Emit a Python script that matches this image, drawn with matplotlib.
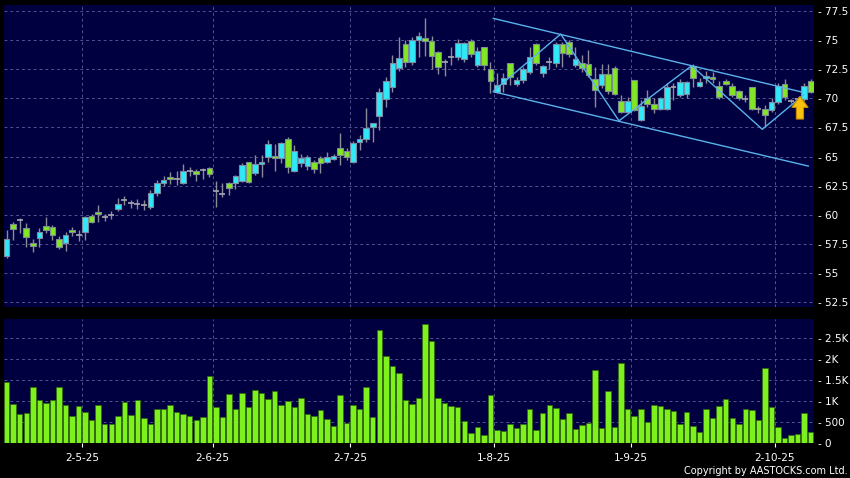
import numpy as np
import matplotlib
matplotlib.use("Agg")
import matplotlib.pyplot as plt
from matplotlib.patches import FancyArrow

# daily OHLC, one entry per trading day (11-4-25 .. 10-10-25)
OPEN = [56.48, 59.18, 59.54, 58.83, 57.54, 57.97, 59.00, 58.97, 57.89, 57.59,
        58.69, 58.26, 58.49, 59.89, 60.23, 59.83, 60.00, 60.52, 61.24, 60.98,
        60.92, 60.86, 60.64, 61.84, 62.70, 63.20, 63.04, 62.70, 63.73, 63.73,
        63.81, 63.99, 62.06, 61.82, 62.70, 62.70, 62.92, 64.50, 63.56, 64.33,
        64.98, 65.07, 64.85, 66.48, 63.75, 64.47, 64.18, 64.55, 64.85, 64.50,
        64.76, 65.70, 65.50, 64.50, 66.27, 66.48, 67.51, 68.50, 69.91, 71.00,
        72.58, 74.64, 73.08, 75.01, 75.22, 74.92, 74.02, 73.08, 73.57, 73.51,
        73.35, 74.95, 72.86, 74.38, 72.49, 70.57, 71.23, 73.01, 71.23, 71.57,
        72.23, 74.64, 72.15, 73.09, 73.01, 74.64, 74.86, 72.86, 73.00, 72.94,
        71.63, 71.14, 72.09, 72.58, 69.79, 68.80, 71.57, 68.14, 70.00, 69.48,
        69.05, 69.05, 71.00, 70.28, 70.34, 72.80, 71.06, 71.72, 71.86, 71.08,
        71.51, 71.06, 70.65, 69.97, 70.95, 69.05, 69.05, 68.97, 69.68, 71.20,
        69.77, 69.91, 69.91, 71.51]
HIGH = [58.69, 59.40, 59.69, 59.26, 57.89, 58.83, 59.78, 59.12, 58.17, 58.54,
        58.97, 58.69, 59.89, 60.06, 60.83, 60.06, 60.32, 61.41, 61.61, 61.26,
        61.32, 61.26, 62.12, 62.98, 63.32, 63.64, 63.75, 64.36, 64.12, 63.90,
        63.99, 64.12, 62.90, 62.75, 62.84, 63.41, 64.44, 64.55, 65.13, 65.13,
        66.42, 66.07, 66.27, 66.68, 65.99, 65.19, 65.13, 64.70, 65.04, 65.41,
        65.21, 67.02, 65.73, 66.33, 66.85, 69.17, 67.88, 70.86, 71.86, 73.72,
        75.31, 75.01, 75.29, 75.72, 76.87, 75.35, 74.09, 73.42, 74.43, 75.07,
        74.84, 75.07, 74.43, 74.43, 73.14, 72.15, 72.20, 73.06, 71.86, 72.71,
        74.43, 74.73, 72.86, 73.57, 74.86, 74.86, 75.01, 74.43, 73.70, 74.15,
        72.71, 72.99, 72.99, 72.75, 70.28, 70.14, 71.60, 69.85, 70.71, 70.00,
        70.14, 71.34, 71.34, 71.63, 71.51, 72.95, 71.72, 72.37, 72.29, 71.51,
        71.63, 71.29, 70.71, 70.28, 71.00, 69.34, 69.42, 70.00, 71.34, 71.63,
        69.91, 70.11, 71.29, 71.63]
LOW = [56.25, 57.83, 58.40, 57.20, 56.77, 57.25, 58.40, 57.83, 57.03, 56.91,
       58.17, 57.77, 57.83, 59.26, 59.40, 59.48, 59.60, 60.34, 60.81, 60.55,
       60.46, 60.40, 60.49, 61.61, 62.47, 62.64, 62.55, 62.64, 63.32, 62.92,
       63.07, 63.26, 60.69, 61.55, 61.69, 62.18, 62.84, 62.70, 63.41, 63.26,
       64.55, 63.78, 64.42, 63.56, 63.69, 64.12, 63.84, 63.61, 63.56, 64.42,
       64.70, 64.27, 64.70, 64.44, 65.56, 66.27, 66.27, 67.28, 69.23, 70.57,
       72.39, 72.71, 72.86, 73.57, 73.68, 72.49, 72.09, 71.94, 72.86, 73.29,
       73.14, 73.57, 72.66, 72.43, 70.48, 70.43, 70.57, 71.14, 71.06, 71.34,
       72.09, 72.86, 71.86, 72.49, 72.71, 72.71, 73.57, 72.71, 72.30, 71.86,
       69.28, 70.88, 70.37, 70.28, 68.74, 68.71, 68.90, 68.08, 69.28, 68.71,
       68.99, 68.99, 69.85, 70.14, 70.00, 71.00, 71.00, 71.34, 71.29, 69.91,
       71.14, 70.14, 69.85, 69.71, 68.99, 68.78, 67.53, 68.85, 69.51, 69.85,
       69.62, 69.77, 69.79, 70.43]
CLOSE = [57.91, 58.75, 59.54, 58.11, 57.29, 58.49, 58.69, 58.26, 57.25, 58.23,
         58.51, 58.26, 59.78, 59.40, 60.03, 59.83, 60.00, 60.92, 61.24, 60.98,
         60.92, 60.86, 61.84, 62.70, 62.98, 63.04, 63.04, 63.73, 63.73, 63.52,
         63.81, 63.47, 62.06, 61.82, 62.32, 63.30, 64.24, 62.78, 64.33, 64.53,
         66.07, 64.85, 66.13, 64.12, 65.50, 64.85, 64.93, 63.90, 64.42, 64.93,
         65.07, 65.09, 64.98, 66.13, 66.48, 67.47, 67.85, 70.52, 71.49, 73.01,
         73.44, 73.08, 75.01, 75.33, 74.90, 73.68, 72.69, 73.08, 73.57, 74.73,
         74.73, 73.81, 74.09, 72.84, 71.51, 71.14, 71.77, 71.86, 71.57, 72.52,
         73.52, 73.01, 72.77, 73.09, 74.64, 73.87, 73.81, 73.35, 72.60, 72.00,
         70.71, 72.09, 70.65, 70.37, 68.80, 69.79, 68.99, 69.36, 69.51, 69.05,
         70.00, 71.00, 71.00, 71.37, 71.43, 71.77, 71.37, 71.94, 71.63, 70.09,
         71.23, 70.26, 70.00, 69.97, 69.05, 69.05, 68.54, 69.68, 71.06, 70.09,
         69.77, 69.91, 71.06, 70.57]
VOLUME = [1453, 937, 690, 707, 1342, 1024, 953, 1016, 1342, 905,
          643, 881, 746, 540, 913, 453, 468, 635, 985, 659,
          1024, 587, 453, 818, 818, 905, 730, 690, 651, 548,
          611, 1580, 865, 619, 1175, 810, 1199, 865, 1254, 1191,
          1048, 1247, 913, 1008, 850, 1072, 699, 635, 794, 580,
          421, 1135, 484, 913, 818, 1334, 619, 2676, 2064, 1818,
          1652, 1016, 921, 1072, 2819, 2414, 1072, 953, 889, 850,
          532, 246, 389, 199, 1151, 326, 294, 468, 373, 468,
          802, 310, 715, 913, 834, 580, 723, 341, 437, 476,
          1723, 357, 1247, 397, 1906, 810, 635, 818, 500, 913,
          873, 818, 770, 453, 730, 413, 270, 818, 596, 889,
          1056, 596, 461, 810, 794, 556, 1787, 858, 381, 119,
          199, 222, 723, 278]

# first trading day of each month, and its label
MONTH_START = [12, 32, 53, 75, 96, 118]
MONTH_LABELS = ["2-5-25", "2-6-25", "2-7-25", "1-8-25", "1-9-25", "2-10-25"]

PRICE_TICKS = [52.5, 55, 57.5, 60, 62.5, 65, 67.5, 70, 72.5, 75, 77.5]
VOL_TICKS = [0, 500, 1000, 1500, 2000, 2500]
VOL_LABELS = ["0", "500", "1K", "1.5K", "2K", "2.5K"]

# hand-drawn trend lines (bar index, price)
UPPER_X, UPPER_Y = [74.44, 121.66], [76.87, 70.54]
LOWER_X, LOWER_Y = [74.44, 122.63], [70.57, 64.18]
ZIGZAG_X = [74.55, 84.75, 93.67, 104.79, 115.59, 121.86]
ZIGZAG_Y = [70.67, 75.52, 68.07, 72.80, 67.34, 70.28]
ARROW_AT = (121.35, 68.22)

NAVY = "#000040"
GRID = "#52528c"
CYAN = "#2fe8f8"
GREEN = "#82e622"
VOLGREEN = "#7ef01e"
WICK = "#8c8c96"
TREND = "#5ab2ea"

o = np.array(OPEN)
h = np.array(HIGH)
l = np.array(LOW)
c = np.array(CLOSE)
x = np.arange(len(o))
grid_x = np.array(MONTH_START) - 0.5

fig = plt.figure(figsize=(8.5, 4.78), dpi=100, facecolor="black")
ax = fig.add_axes([4 / 850, 1 - 307 / 478, 810 / 850, 302 / 478])
axv = fig.add_axes([4 / 850, 1 - 443.3 / 478, 810 / 850, 124.3 / 478])

for a in (ax, axv):
    a.set_facecolor(NAVY)
    for s in a.spines.values():
        s.set_visible(False)
    a.set_xlim(-0.41, 123.5)
    a.set_xticks(grid_x)
    a.grid(True, color=GRID, linestyle=(0, (3, 3)), linewidth=0.7)
    a.set_axisbelow(True)
    a.yaxis.tick_right()
    a.tick_params(axis="y", length=0, pad=3, colors="white", labelsize=7.5)

# --- candles ---
up = c > o
down = c < o
flat = c == o
ax.vlines(x, l, h, color=WICK, linewidth=1, zorder=2)
ax.bar(x[up], (c - o)[up], bottom=o[up], width=0.86, color=CYAN,
       edgecolor="#7c8ca0", linewidth=0.8, zorder=3)
ax.bar(x[down], (o - c)[down], bottom=c[down], width=0.86, color=GREEN,
       edgecolor="#7c8c90", linewidth=0.8, zorder=3)
ax.hlines(c[flat], x[flat] - 0.45, x[flat] + 0.45, color="#a8a8b0", linewidth=1.2, zorder=3)

ax.plot(UPPER_X, UPPER_Y, color=TREND, linewidth=1, zorder=4)
ax.plot(LOWER_X, LOWER_Y, color=TREND, linewidth=1, zorder=4)
ax.plot(ZIGZAG_X, ZIGZAG_Y, color=TREND, linewidth=1, zorder=4)
ax.add_patch(FancyArrow(ARROW_AT[0], ARROW_AT[1], 0, 1.95, width=1.1, head_width=2.5,
                        head_length=0.95, length_includes_head=True,
                        facecolor="#f7c10c", edgecolor="#c98a00", linewidth=0.8, zorder=6))

ax.set_ylim(52.07, 78.02)
ax.set_yticks(PRICE_TICKS)
ax.set_yticklabels([f"- {v:g}" for v in PRICE_TICKS])
ax.tick_params(axis="x", length=0, labelbottom=False)

# --- volume ---
axv.bar(x, VOLUME, width=0.84, color=VOLGREEN, edgecolor="#2f6a0c", linewidth=0.5, zorder=3)
axv.set_ylim(0, 2940)
axv.set_yticks(VOL_TICKS)
axv.set_yticklabels([f"- {s}" for s in VOL_LABELS])
axv.set_xticklabels(MONTH_LABELS)
axv.tick_params(axis="x", colors="white", direction="out", length=3, width=0.8,
                pad=4, labelsize=7.5)

fig.text(0.997, 0.004, "Copyright by AASTOCKS.com Ltd.", color="white",
         fontsize=7, ha="right", va="bottom")

fig.savefig("out.png", dpi=100, facecolor="black")
